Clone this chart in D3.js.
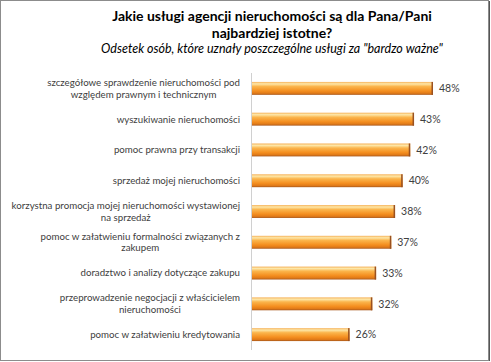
<!DOCTYPE html>
<html>
<head>
<meta charset="utf-8">
<script src="https://d3js.org/d3.v7.min.js"></script>
<style>
  body { margin: 0; background: #fff; }
  text { font-family: Lato, "Noto Sans", sans-serif; }
</style>
</head>
<body>
<div id="chart"></div>
<script>
// categories (line breaks as in the original) and values in %
var categories = [
  "szczegółowe sprawdzenie nieruchomości pod\nwzględem prawnym i technicznym",
  "wyszukiwanie nieruchomości",
  "pomoc prawna przy transakcji",
  "sprzedaż mojej nieruchomości",
  "korzystna promocja mojej nieruchomości wystawionej\nna sprzedaż",
  "pomoc w załatwieniu formalności związanych z\nzakupem",
  "doradztwo i analizy dotyczące zakupu",
  "przeprowadzenie negocjacji z właścicielem\nnieruchomości",
  "pomoc w załatwieniu kredytowania"
];
var values = [48, 43, 42, 40, 38, 37, 33, 32, 26];
var titleLines = ["Jakie usługi agencji nieruchomości są dla Pana/Pani", "najbardziej istotne?"];
var subtitle = "Odsetek osób, które uznały poszczególne usługi za \"bardzo ważne\"";

var W = 491, H = 362;
var svg = d3.select("#chart").append("svg")
    .attr("width", W)
    .attr("height", H);

// bar gradient
var defs = svg.append("defs");
var grad = defs.append("linearGradient")
    .attr("id", "barGrad")
    .attr("x1", 0).attr("y1", 0).attr("x2", 0).attr("y2", 1);
grad.append("stop").attr("offset", "0%").attr("stop-color", "#f6b25a");
grad.append("stop").attr("offset", "15%").attr("stop-color", "#fde7a8");
grad.append("stop").attr("offset", "35%").attr("stop-color", "#fbb54c");
grad.append("stop").attr("offset", "70%").attr("stop-color", "#f48e1f");
grad.append("stop").attr("offset", "88%").attr("stop-color", "#e07a18");
grad.append("stop").attr("offset", "100%").attr("stop-color", "#a8581c");

// frame
svg.append("rect")
    .attr("x", 0.5).attr("y", 0.5)
    .attr("width", 488).attr("height", 360)
    .attr("fill", "#fff")
    .attr("stroke", "#8c8c8c");
svg.append("line")
    .attr("x1", 489.5).attr("x2", 489.5).attr("y1", 1).attr("y2", 361)
    .attr("stroke", "#555");

// titles
svg.selectAll("text.title")
  .data(titleLines)
  .enter().append("text")
    .attr("class", "title")
    .attr("x", 272)
    .attr("y", function(d, i) { return 21 + i * 16.5; })
    .attr("text-anchor", "middle")
    .attr("font-size", "14px")
    .attr("font-weight", "bold")
    .attr("fill", "#000")
    .text(function(d) { return d; });

svg.append("text")
    .attr("x", 272)
    .attr("y", 53)
    .attr("text-anchor", "middle")
    .attr("font-size", "12.5px")
    .attr("font-style", "italic")
    .attr("fill", "#000")
    .text(subtitle);

// scales
var x0 = 251;
var x = d3.scaleLinear()
    .domain([0, 48])
    .range([x0, 433]);

var y = d3.scaleBand()
    .domain(categories)
    .range([73, 350])
    .paddingInner(0.58)
    .paddingOuter(0.29);

// axis line
svg.append("line")
    .attr("x1", x0 + 0.5).attr("x2", x0 + 0.5)
    .attr("y1", 73).attr("y2", 350)
    .attr("stroke", "#d0d0d0");

// bars
svg.selectAll("rect.bar")
  .data(values)
  .enter().append("rect")
    .attr("class", "bar")
    .attr("x", x(0) + 1)
    .attr("y", function(d, i) { return y(categories[i]); })
    .attr("width", function(d) { return x(d) - x(0) - 1; })
    .attr("height", y.bandwidth())
    .attr("fill", "url(#barGrad)");

// dark right edge of each bar
svg.selectAll("rect.edge")
  .data(values)
  .enter().append("rect")
    .attr("class", "edge")
    .attr("x", function(d) { return x(d) - 1.5; })
    .attr("y", function(d, i) { return y(categories[i]); })
    .attr("width", 1.5)
    .attr("height", y.bandwidth())
    .attr("fill", "#9a5120");

// value labels
svg.selectAll("text.val")
  .data(values)
  .enter().append("text")
    .attr("class", "val")
    .attr("x", function(d) { return x(d) + 6; })
    .attr("y", function(d, i) { return y(categories[i]) + y.bandwidth() / 2; })
    .attr("dy", "0.35em")
    .attr("font-size", "10.5px")
    .attr("fill", "#404040")
    .text(function(d) { return d + "%"; });

// category labels
var lab = svg.selectAll("text.cat")
  .data(categories)
  .enter().append("text")
    .attr("class", "cat")
    .attr("text-anchor", "middle")
    .attr("font-size", "9.7px")
    .attr("fill", "#404040");

lab.each(function(d) {
  var lines = d.split("\n");
  var cy = y(d) + y.bandwidth() / 2;
  var t = d3.select(this);
  // widest line is right aligned at 240, lines centred on each other
  var tmp = t.append("tspan").text(lines[0]);
  var wMax = 0;
  lines.forEach(function(l) {
    tmp.text(l);
    wMax = Math.max(wMax, tmp.node().getComputedTextLength());
  });
  tmp.remove();
  var cx = 240 - wMax / 2;
  lines.forEach(function(l, i) {
    t.append("tspan")
      .attr("x", cx)
      .attr("y", cy + (i - (lines.length - 1) / 2) * 11.5)
      .attr("dy", "0.35em")
      .text(l);
  });
});
</script>
</body>
</html>
